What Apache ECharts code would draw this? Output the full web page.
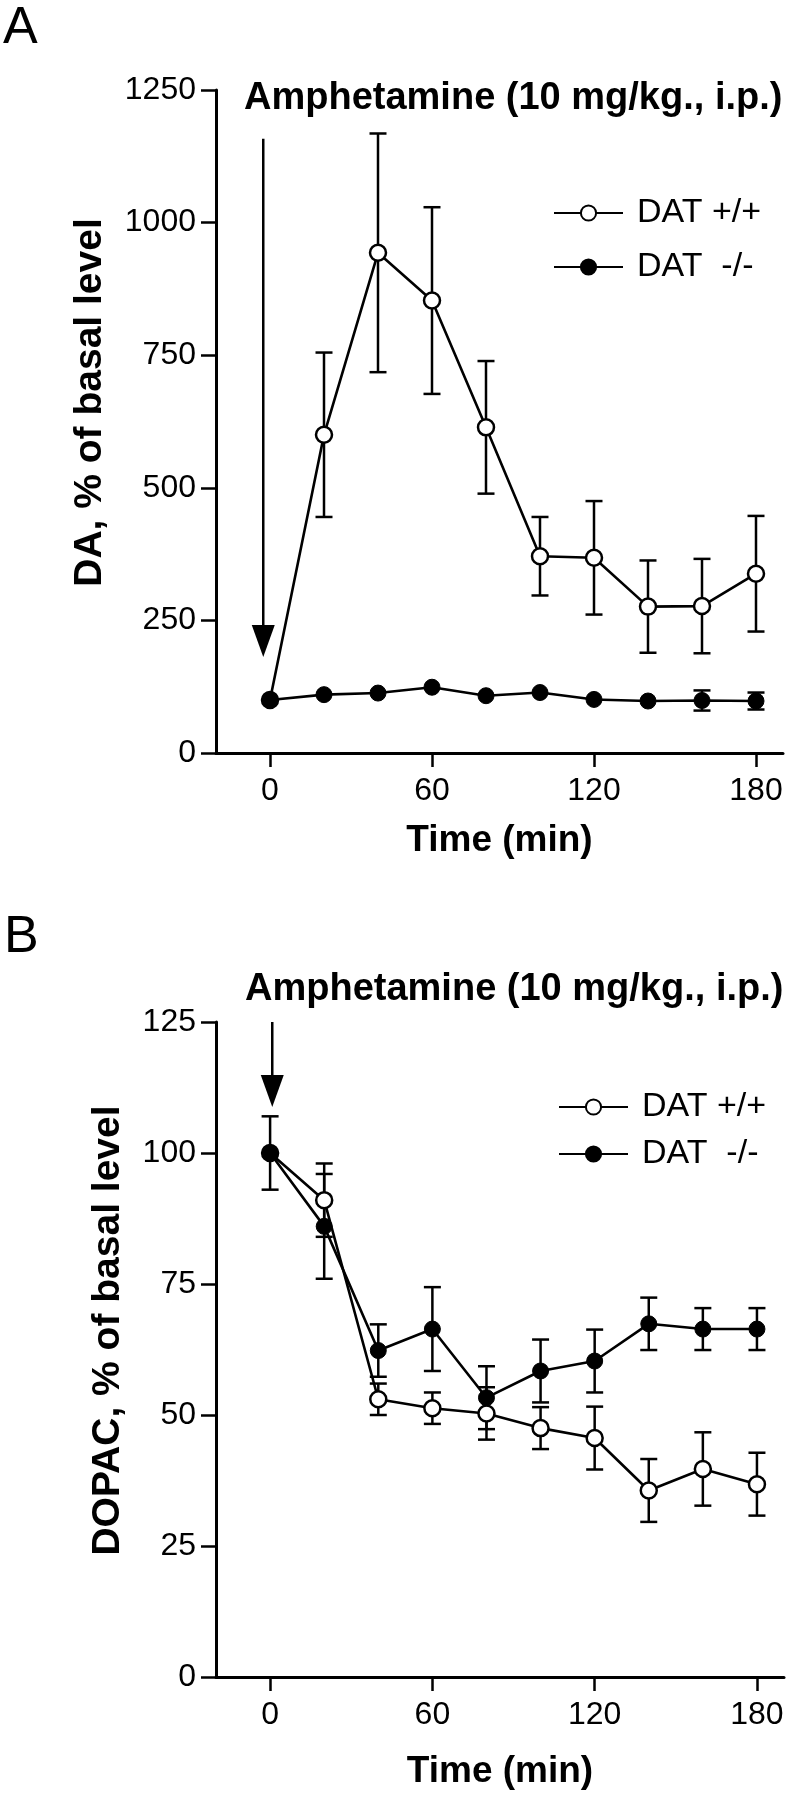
<!DOCTYPE html>
<html><head><meta charset="utf-8">
<script src="https://cdn.jsdelivr.net/npm/echarts@6/dist/echarts.min.js"></script>
<style>html,body{margin:0;padding:0;background:#fff}#c{width:797px;height:1800px}</style>
</head><body><div id="c"></div>
<script>
// ---- data ----
const time = [0, 20, 40, 60, 80, 100, 120, 140, 160, 180];
const xTickValues = [0, 60, 120, 180];
const seriesNames = ['DAT +/+', 'DAT  -/-'];

// Panel A: DA, % of basal level
const daWT    = [100, 600, 943, 853, 614, 371, 368, 276, 277, 338];
const daWTErr = [0, 155, 225, 176, 125, 74, 107, 87, 89, 109];
const daKO    = [100, 110, 113, 124, 108, 114, 101, 98, 99, 98];
const daKOErr = [0, 0, 0, 0, 0, 0, 0, 0, 19, 16];

// Panel B: DOPAC, % of basal level
const dopacWT    = [100, 91, 53, 51.3, 50.3, 47.5, 45.6, 35.6, 39.7, 36.8];
const dopacWTErr = [7, 7, 3, 3, 5, 4, 6, 6, 7, 6];
const dopacKO    = [100, 86, 62.3, 66.4, 53.3, 58.4, 60.3, 67.4, 66.4, 66.4];
const dopacKOErr = [0, 10, 5, 8, 6, 6, 6, 5, 4, 4];

// injection arrows: [time, top value, tip value]
const arrowA = [-2.5, 1158, 181];
const arrowB = [0.8, 125, 108.8];

const titleText = 'Amphetamine (10 mg/kg., i.p.)';
// ---- chart ----
const F = 'Liberation Sans, Arial, Helvetica, sans-serif';
const chart = echarts.init(document.getElementById('c'), null, {renderer: 'canvas'});

function pts(vals) { return time.map((t, i) => [t, vals[i]]); }
function errs(vals, e) {
  const out = [];
  time.forEach((t, i) => { if (e[i] > 0) out.push([t, vals[i] - e[i], vals[i] + e[i]]); });
  return out;
}
function errItem(params, api) {
  const x = api.value(0), lo = api.value(1), hi = api.value(2);
  const p1 = api.coord([x, hi]), p2 = api.coord([x, lo]);
  const w = 8.5;
  const st = {stroke: '#000', lineWidth: 2.5};
  return {type: 'group', children: [
    {type: 'line', shape: {x1: p1[0], y1: p1[1], x2: p2[0], y2: p2[1]}, style: st},
    {type: 'line', shape: {x1: p1[0] - w, y1: p1[1], x2: p1[0] + w, y2: p1[1]}, style: st},
    {type: 'line', shape: {x1: p2[0] - w, y1: p2[1], x2: p2[0] + w, y2: p2[1]}, style: st}
  ]};
}
function arrowItem(params, api) {
  const x = api.value(0), top = api.value(1), tip = api.value(2);
  const a = api.coord([x, top]), b = api.coord([x, tip]);
  const hw = 11.5, hh = 32;
  return {type: 'group', children: [
    {type: 'line', shape: {x1: a[0], y1: a[1], x2: b[0], y2: b[1] - hh + 2}, style: {stroke: '#000', lineWidth: 2.5}},
    {type: 'polygon', shape: {points: [[b[0] - hw, b[1] - hh], [b[0] + hw, b[1] - hh], [b[0], b[1]]]}, style: {fill: '#000'}}
  ]};
}

function xAxis(idx, gap) {
  return {
    type: 'value', gridIndex: idx, min: -20, max: 190,
    name: 'Time (min)', nameLocation: 'middle', nameGap: gap,
    nameTextStyle: {fontFamily: F, fontSize: 37, fontWeight: 'bold', color: '#000', verticalAlign: 'middle'},
    axisLine: {show: true, onZero: false, lineStyle: {color: '#000', width: 3}},
    axisTick: {show: true, length: 14, lineStyle: {color: '#000', width: 2.5}, customValues: xTickValues},
    axisLabel: {fontFamily: F, fontSize: 32, color: '#000', margin: 22, customValues: xTickValues,
      formatter: v => String(v)},
    splitLine: {show: false}
  };
}
function yAxis(idx, max, interval, name, gap) {
  return {
    type: 'value', gridIndex: idx, min: 0, max: max, interval: interval,
    name: name, nameLocation: 'middle', nameRotate: 90, nameGap: gap,
    nameTextStyle: {fontFamily: F, fontSize: 39, fontWeight: 'bold', color: '#000', align: 'center', verticalAlign: 'middle', padding: [0, 0, 0, 38]},
    axisLine: {show: true, onZero: false, lineStyle: {color: '#000', width: 3}},
    axisTick: {show: true, length: 15, lineStyle: {color: '#000', width: 2.5}},
    axisLabel: {fontFamily: F, fontSize: 32, color: '#000', margin: 20, formatter: v => String(v)},
    splitLine: {show: false}
  };
}
function lineSeries(name, xi, data, open) {
  return {
    type: 'line', name: name, xAxisIndex: xi, yAxisIndex: xi, data: data,
    symbol: 'circle', symbolSize: 16, showSymbol: true, clip: false, z: open ? 3 : 4,
    lineStyle: {color: '#000', width: 2.6},
    itemStyle: open ? {color: '#fff', borderColor: '#000', borderWidth: 2.5} : {color: '#000', borderColor: '#000', borderWidth: 1}
  };
}
function errSeries(xi, data) {
  return {type: 'custom', xAxisIndex: xi, yAxisIndex: xi, data: data, renderItem: errItem, z: 2, clip: false,
    encode: {x: 0, y: [1, 2]}, silent: true};
}
function arrowSeries(xi, a) {
  return {type: 'custom', xAxisIndex: xi, yAxisIndex: xi, data: [a], renderItem: arrowItem, z: 2, clip: false,
    encode: {x: 0, y: [1, 2]}, silent: true};
}
function legend(left, top, gap) {
  return {
    data: seriesNames, orient: 'vertical', left: left, top: top, padding: 0,
    itemWidth: 69, itemHeight: 19, itemGap: gap, selectedMode: false,
    textStyle: {fontFamily: F, fontSize: 34, color: '#000', lineHeight: 34, padding: [0, 0, 0, 9]}
  };
}

const option = {
  animation: false,
  backgroundColor: '#fff',
  grid: [
    {left: 216, top: 90, width: 567, height: 663},
    {left: 216, top: 1022, width: 568, height: 655}
  ],
  xAxis: [xAxis(0, 88), xAxis(1, 95)],
  yAxis: [
    yAxis(0, 1250, 250, 'DA, % of basal level', 126),
    yAxis(1, 125, 25, 'DOPAC, % of basal level', 108)
  ],
  legend: [legend(553, 196, 20), legend(558, 1090, 13)],
  graphic: [
    {type: 'text', style: {text: 'A', x: 3, y: 29, font: '52px ' + F, fill: '#000', verticalAlign: 'middle'}},
    {type: 'text', style: {text: 'B', x: 4, y: 938, font: '52px ' + F, fill: '#000', verticalAlign: 'middle'}},
    {type: 'text', style: {text: titleText, x: 244, y: 98.5, font: 'bold 38px ' + F, fill: '#000', verticalAlign: 'middle'}},
    {type: 'text', style: {text: titleText, x: 245, y: 989.5, font: 'bold 38px ' + F, fill: '#000', verticalAlign: 'middle'}}
  ],
  series: [
    errSeries(0, errs(daWT, daWTErr)),
    errSeries(0, errs(daKO, daKOErr)),
    lineSeries(seriesNames[0], 0, pts(daWT), true),
    lineSeries(seriesNames[1], 0, pts(daKO), false),
    arrowSeries(0, arrowA),
    errSeries(1, errs(dopacWT, dopacWTErr)),
    errSeries(1, errs(dopacKO, dopacKOErr)),
    lineSeries(seriesNames[0], 1, pts(dopacWT), true),
    lineSeries(seriesNames[1], 1, pts(dopacKO), false),
    arrowSeries(1, arrowB)
  ]
};
chart.setOption(option);
</script>
</body></html>
